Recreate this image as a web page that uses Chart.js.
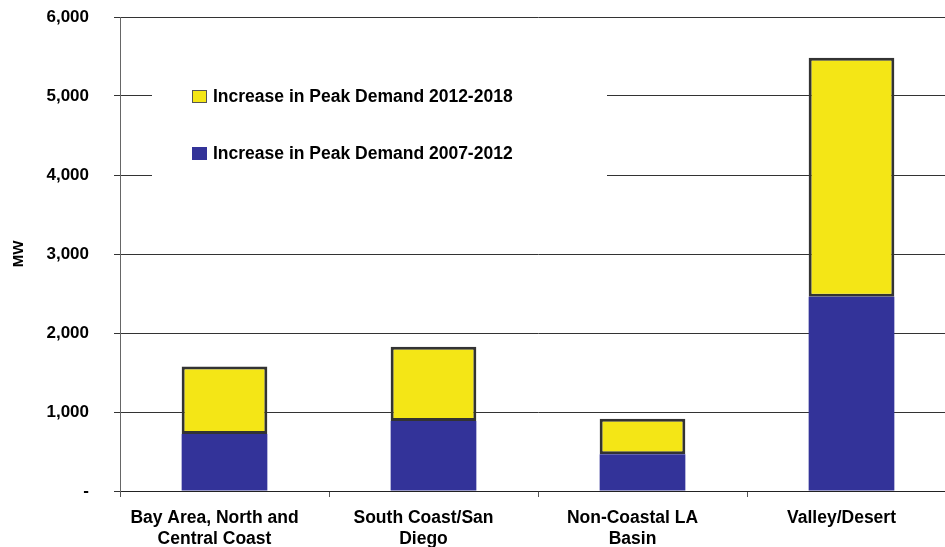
<!DOCTYPE html>
<html>
<head>
<meta charset="utf-8">
<script src="https://cdn.jsdelivr.net/npm/chart.js@4"></script>
<style>
    html, body { margin: 0; padding: 0; background: #fff; overflow: hidden; }
    #wrap { width: 960px; height: 547px; position: relative; }
</style>
</head>
<body>
<div id="wrap"><canvas id="peakChart"></canvas></div>
<script>
// DATOS
const regions = [
    ["Bay Area, North and", "Central Coast"],
    ["South Coast/San", "Diego"],
    ["Non-Coastal LA", "Basin"],
    "Valley/Desert"
];
const increase2007to2012 = [720, 885, 465, 2460];
const increase2012to2018 = [855, 940, 450, 3025];
const yTicks = [0, 1000, 2000, 3000, 4000, 5000, 6000];
const seriesNames = ["Increase in Peak Demand 2007-2012", "Increase in Peak Demand 2012-2018"];

const FONT = "'Liberation Sans', Arial, sans-serif";
const YELLOW = '#f4e616';
const BLUE = '#333399';

// LEYENDA DENTRO DEL AREA DEL GRAFICO
const boxLegend = {
    id: 'boxLegend',
    afterDraw(chart) {
        const ctx = chart.ctx;
        const area = chart.chartArea;
        const x0 = area.left + 32;
        const y0 = area.top;
        ctx.save();
        ctx.fillStyle = '#fff';
        ctx.fillRect(x0, y0 + 60, 455, 105);

        const items = chart.data.datasets.slice().reverse();
        items.forEach((ds, i) => {
            const y = y0 + 73 + i * 57;
            ctx.fillStyle = ds.backgroundColor;
            ctx.fillRect(x0 + 40, y, 15, 13);
            ctx.strokeStyle = i === 0 ? '#555' : ds.backgroundColor;
            ctx.lineWidth = 1;
            ctx.strokeRect(x0 + 40.5, y + 0.5, 14, 12);
            ctx.fillStyle = '#000';
            ctx.font = 'bold 17.5px ' + FONT;
            ctx.textBaseline = 'middle';
            ctx.textAlign = 'left';
            ctx.fillText(ds.label, x0 + 61, y + 7);
        });
        ctx.restore();
    }
};

// CREAR GRAFICO
const ctx = document.getElementById('peakChart').getContext('2d');
new Chart(ctx, {
    type: 'bar',
    data: {
        labels: regions,
        datasets: [{
            label: seriesNames[0],
            data: increase2007to2012,
            backgroundColor: BLUE,
            borderWidth: 0,
            categoryPercentage: 1,
            barPercentage: 0.41
        }, {
            label: seriesNames[1],
            data: increase2012to2018,
            backgroundColor: YELLOW,
            borderColor: '#333',
            borderWidth: 3,
            borderSkipped: false,
            categoryPercentage: 1,
            barPercentage: 0.41
        }]
    },
    options: {
        responsive: true,
        maintainAspectRatio: false,
        animation: false,
        layout: {
            padding: { left: 0, right: 4, top: 17, bottom: 0 }
        },
        scales: {
            x: {
                stacked: true,
                border: { display: true, color: '#222', width: 1 },
                grid: {
                    offset: true,
                    drawOnChartArea: false,
                    drawTicks: true,
                    tickLength: 6,
                    color: '#555'
                },
                ticks: {
                    color: '#000',
                    padding: 11,
                    labelOffset: -10,
                    maxRotation: 0,
                    autoSkip: false,
                    font: { family: FONT, size: 17.5, weight: 'bold', lineHeight: 1.2 }
                },
                afterFit(scale) { scale.height = 56; }
            },
            y: {
                stacked: true,
                min: 0,
                max: 6000,
                afterBuildTicks(scale) {
                    scale.ticks = yTicks.map(v => ({ value: v }));
                },
                border: { display: true, color: '#666', width: 1 },
                grid: {
                    color: '#333',
                    lineWidth: 1,
                    tickLength: 6
                },
                ticks: {
                    color: '#000',
                    padding: 25,
                    font: { family: FONT, size: 17, weight: 'bold' },
                    callback: v => v === 0 ? '-' : v.toLocaleString('en-US')
                },
                title: {
                    display: true,
                    text: 'MW',
                    color: '#000',
                    padding: { top: 10, bottom: 4 },
                    font: { family: FONT, size: 15, weight: 'bold' }
                },
                afterFit(scale) {
                    scale.width = 120;
                    scale.paddingTop = 0;
                    scale.paddingBottom = 0;
                }
            }
        },
        plugins: {
            legend: { display: false },
            tooltip: { enabled: false }
        }
    },
    plugins: [boxLegend]
});
</script>
</body>
</html>
